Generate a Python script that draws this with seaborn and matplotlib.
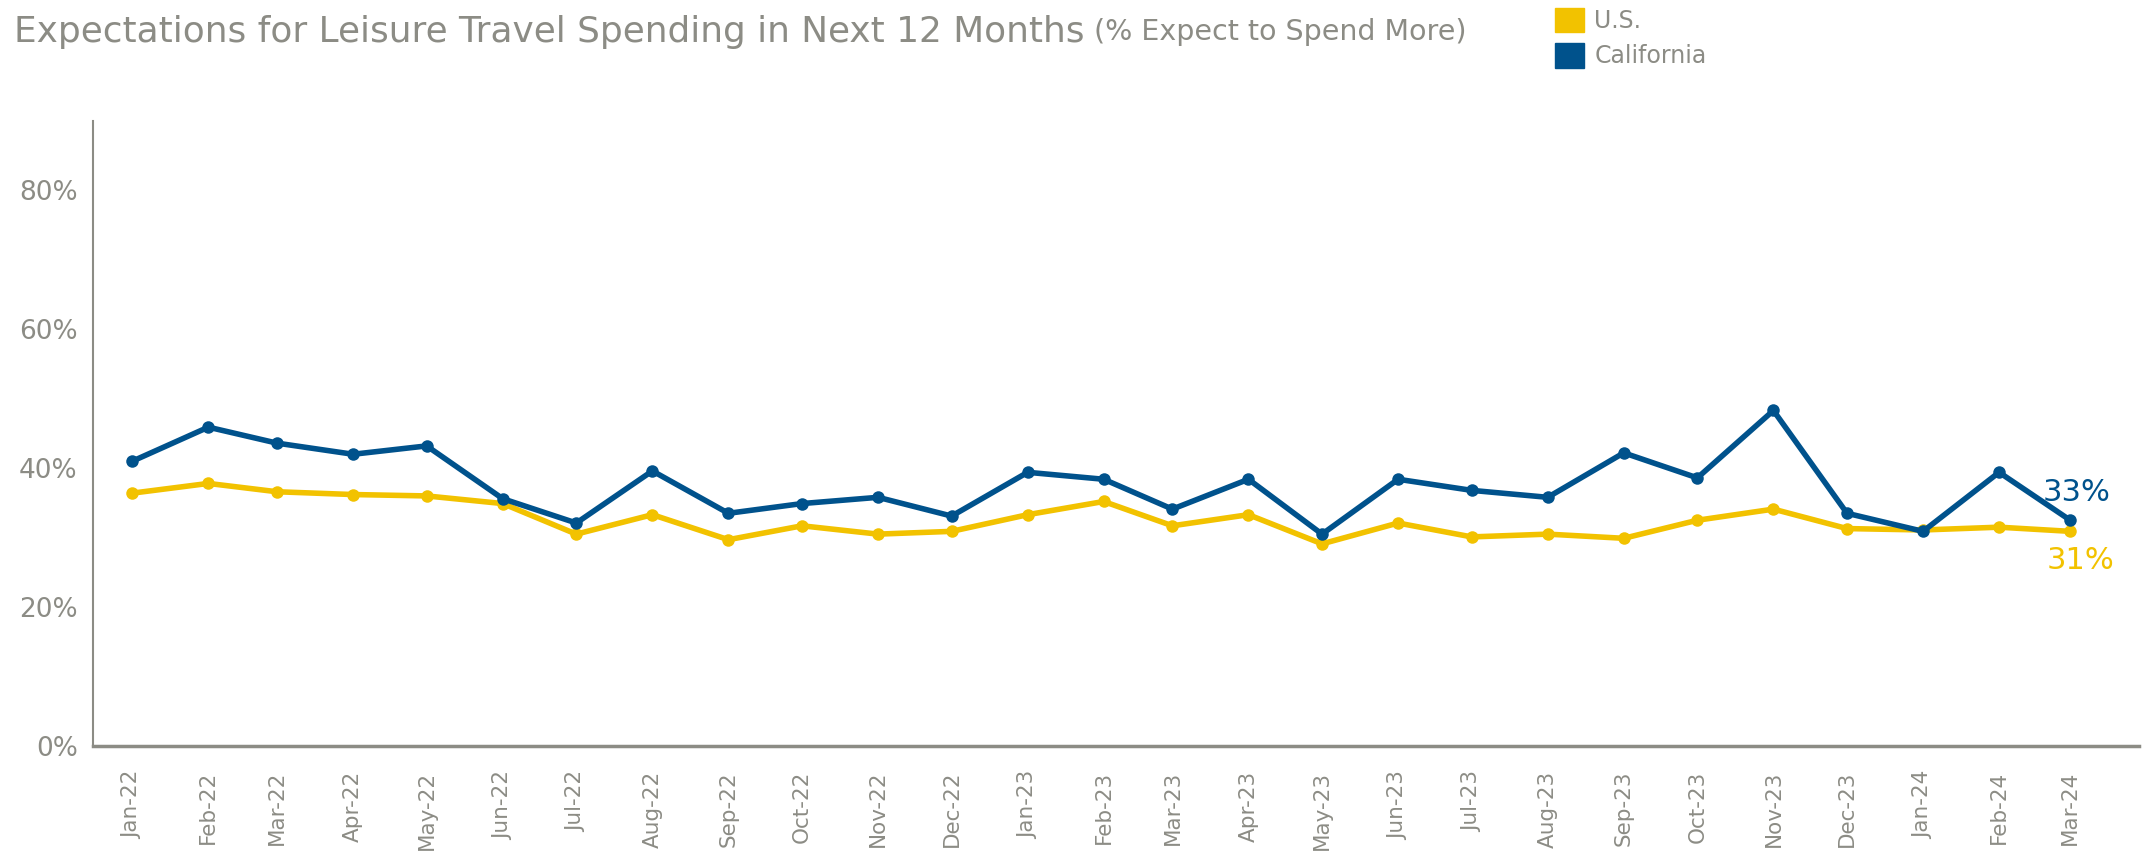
import pandas as pd
import matplotlib.pyplot as plt
import matplotlib.dates as mdates
from matplotlib.patches import Patch
import seaborn as sns

# Data (% expecting to spend more)
months = pd.date_range("2022-01-01", "2024-03-01", freq="MS")
us = [36.4, 37.8, 36.6, 36.2, 36.0, 34.9, 30.5, 33.3, 29.7, 31.7, 30.5, 30.9,
      33.3, 35.2, 31.7, 33.3, 29.1, 32.1, 30.1, 30.5, 29.9, 32.5, 34.1, 31.3,
      31.1, 31.5, 30.9]
california = [41.0, 45.9, 43.6, 42.0, 43.2, 35.6, 32.1, 39.6, 33.5, 34.9, 35.8, 33.1,
              39.4, 38.4, 34.1, 38.4, 30.5, 38.4, 36.8, 35.8, 42.2, 38.6, 48.3, 33.5,
              30.9, 39.4, 32.5]
series_names = ["U.S.", "California"]
end_labels = ["31%", "33%"]

YELLOW = "#F2C200"
BLUE = "#00528C"
GRAY = "#8C8C85"

df = pd.DataFrame({
    "month": list(months) * 2,
    "value": us + california,
    "series": ["U.S."] * len(us) + ["California"] * len(california),
})

sns.set_style("white")
plt.rcParams["font.family"] = ["DejaVu Sans"]

fig = plt.figure(figsize=(21.54, 8.51), dpi=100)
ax = fig.add_axes([0.0432, 0.1234, 0.9498, 0.7346])

palette = {"U.S.": YELLOW, "California": BLUE}
sns.lineplot(data=df, x="month", y="value", hue="series", palette=palette,
             hue_order=series_names, marker="o", markersize=9, markeredgewidth=0,
             linewidth=4, legend=False, ax=ax)

ax.set_ylim(0, 90)
ax.set_yticks([0, 20, 40, 60, 80])
ax.set_yticklabels([f"{v}%" for v in [0, 20, 40, 60, 80]])
ax.set_xlim(pd.Timestamp("2021-12-16"), pd.Timestamp("2024-03-29"))
ax.set_xticks(months)
ax.xaxis.set_major_formatter(mdates.DateFormatter("%b-%y"))
ax.set_xlabel("")
ax.set_ylabel("")

ax.tick_params(axis="y", colors="#E8E8E8", labelcolor=GRAY, labelsize=19,
               length=8, width=1.5, pad=3)
ax.tick_params(axis="x", colors="#E8E8E8", labelcolor=GRAY, labelsize=15.5,
               length=10, width=1.5, rotation=90, pad=8)

for side in ["top", "right"]:
    ax.spines[side].set_visible(False)
ax.spines["left"].set_color(GRAY)
ax.spines["left"].set_linewidth(1.5)
ax.spines["bottom"].set_color(GRAY)
ax.spines["bottom"].set_linewidth(2.5)

# End labels
ax.annotate(end_labels[1], (months[-1], california[-1]), xytext=(-20, 20),
            textcoords="offset points", color=BLUE, fontsize=22, ha="left", va="center")
ax.annotate(end_labels[0], (months[-1], us[-1]), xytext=(-17, -21),
            textcoords="offset points", color=YELLOW, fontsize=22, ha="left", va="center")

# Title
fig.text(0.0065, 0.962, "Expectations for Leisure Travel Spending in Next 12 Months",
         color=GRAY, fontsize=25.8, va="center", ha="left")
fig.text(0.508, 0.962, "(% Expect to Spend More)", color=GRAY, fontsize=20.5,
         va="center", ha="left")

# Legend
handles = [Patch(color=YELLOW, label="U.S."), Patch(color=BLUE, label="California")]
leg = fig.legend(handles=handles, loc="upper left", bbox_to_anchor=(0.7122, 1.016),
                 frameon=False, fontsize=17, handlelength=1.2, handleheight=1.2,
                 handletextpad=0.45, labelspacing=0.45)
for t in leg.get_texts():
    t.set_color(GRAY)

fig.savefig("out.png", dpi=100)
